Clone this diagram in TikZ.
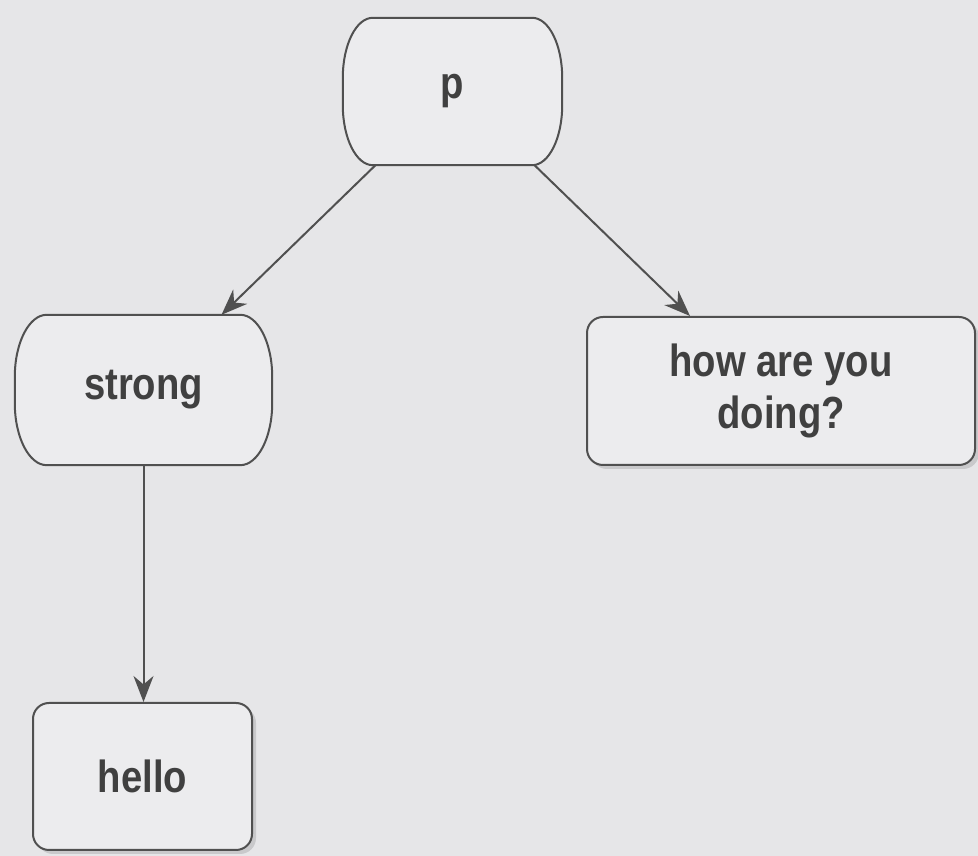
\documentclass[tikz,border=0pt]{standalone}
\usepackage{fontspec}
\setmainfont{Liberation Sans}[FakeStretch=0.85]
\usetikzlibrary{arrows.meta,shadows}

\definecolor{paper}{HTML}{E6E6E8}
\definecolor{boxfill}{HTML}{ECECEE}
\definecolor{ink}{HTML}{505050}
\definecolor{txt}{HTML}{404040}
\definecolor{shade}{HTML}{BDBDC0}

% outline of a box with wide elliptical corners (rx x ry)
\newcommand\capsuleoutline[4]{%
  \fill[shade,opacity=0.7,xshift=4pt,yshift=-4pt]
    ([xshift=#2]#1.north west) -- ([xshift=-#2]#1.north east)
    arc[start angle=90,end angle=0,x radius=#2,y radius=#3]
    -- ([yshift=#3]#1.south east)
    arc[start angle=0,end angle=-90,x radius=#2,y radius=#3]
    -- ([xshift=#2]#1.south west)
    arc[start angle=270,end angle=180,x radius=#2,y radius=#3]
    -- ([yshift=-#3]#1.north west)
    arc[start angle=180,end angle=90,x radius=#2,y radius=#3] -- cycle;
  \filldraw[boxline,fill=boxfill]
    ([xshift=#2]#1.north west) -- ([xshift=-#2]#1.north east)
    arc[start angle=90,end angle=0,x radius=#2,y radius=#3]
    -- ([yshift=#3]#1.south east)
    arc[start angle=0,end angle=-90,x radius=#2,y radius=#3]
    -- ([xshift=#2]#1.south west)
    arc[start angle=270,end angle=180,x radius=#2,y radius=#3]
    -- ([yshift=-#3]#1.north west)
    arc[start angle=180,end angle=90,x radius=#2,y radius=#3] -- cycle;
  \node[labeltext] at (#1.center) {#4};
}

\begin{document}
\begin{tikzpicture}[x=1pt,y=1pt,
  boxline/.style={draw=ink,line width=2pt},
  labeltext/.style={text=txt,font=\fontsize{45}{52}\selectfont\bfseries,align=center,inner sep=0pt},
  frame/.style={rectangle,inner sep=0pt,minimum width=#1},
  tagbox/.style={rectangle,boxline,fill=boxfill,rounded corners=16pt,
    labeltext,drop shadow={shadow xshift=4pt,shadow yshift=-4pt,fill=shade,opacity=0.7}},
  link/.style={draw=ink,line width=2pt,-{Stealth[length=26pt,width=20pt]}}
]
\fill[paper] (0,0) rectangle (978,856);
\useasboundingbox (0,0) rectangle (978,856);

% element nodes
\node[frame=219pt,minimum height=147pt] (p) at (452.5,764.5) {};
\node[frame=257pt,minimum height=150pt] (strong) at (143.5,466) {};
\node[tagbox,minimum width=388pt,minimum height=148pt] (how) at (781,465)
  {how are you\\doing?};
\node[tagbox,minimum width=219pt,minimum height=147pt] (hello) at (142.5,79.5)
  {hello};

\capsuleoutline{p}{30pt}{60pt}{p}
\capsuleoutline{strong}{32pt}{62pt}{strong}

% tree links
\draw[link] ([xshift=-77pt]p.south) -- ([xshift=78pt]strong.north);
\draw[link] ([xshift=82pt]p.south) -- ([xshift=-91pt]how.north);
\draw[link] (strong.south) -- (strong.south |- hello.north);
\end{tikzpicture}
\end{document}
